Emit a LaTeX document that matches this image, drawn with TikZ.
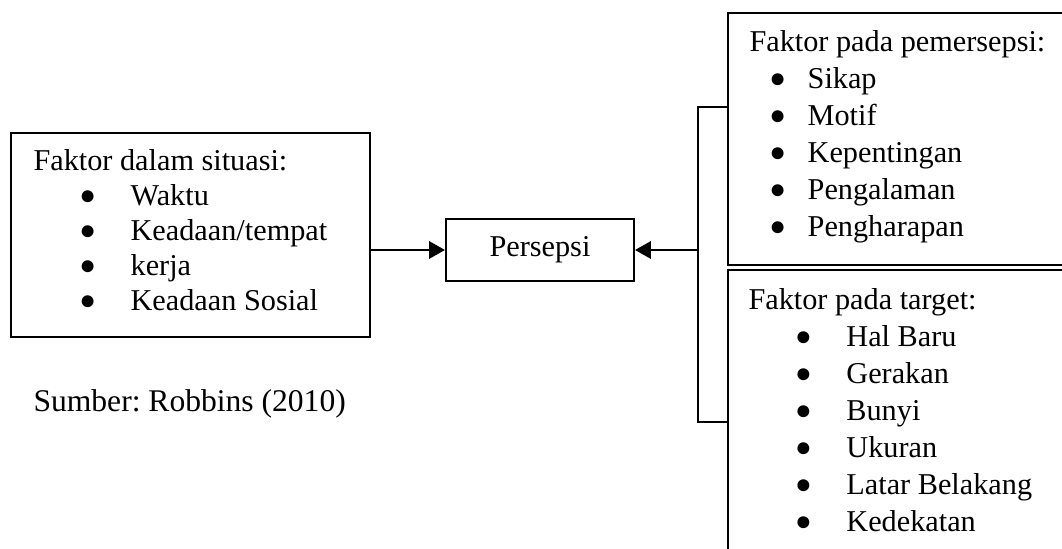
\documentclass[tikz,border=0pt]{standalone}
\usepackage{fontspec}
\setmainfont{Liberation Serif}
\usetikzlibrary{arrows.meta}
\frenchspacing
\newcommand{\titik}[3]{\hspace*{#1}\makebox[#2][l]{\raisebox{0.5pt}{\fontsize{10.5}{10.5}\selectfont ●}}#3}

\begin{document}
\begin{tikzpicture}[x=0.38pt,y=-0.38pt,
    kotak/.style={draw,line width=0.8pt,inner sep=0pt},
    teks/.style={anchor=base west,inner sep=0pt,font=\fontsize{11.5}{13.3}\selectfont},
    panah/.style={line width=0.9pt,-{Triangle[length=6pt,width=6.5pt]}}]

            \clip (0,0) rectangle (1062,549);

            \node[kotak,minimum width=136.4pt,minimum height=77.5pt] (situasi) at (190.5,235){};
            \node[teks] (situasiisi) at (33,171){\begin{tabular}[t]{@{}l@{}}
                Faktor dalam situasi:\\
                \titik{17.4pt}{19.5pt}{Waktu}\\
                \titik{17.4pt}{19.5pt}{Keadaan/tempat}\\
                \titik{17.4pt}{19.5pt}{kerja}\\
                \titik{17.4pt}{19.5pt}{Keadaan Sosial}
            \end{tabular}};

            \node[kotak,teks,anchor=center,minimum width=71.4pt,minimum height=23.6pt] (persepsi) at (540,250){Persepsi};

            \node[kotak,minimum width=141.4pt,minimum height=95.8pt] (pemersepsi) at (914,139){};
            \node[teks,font=\fontsize{11.5}{14.06}\selectfont] (pemersepsiisi) at (749,52){\begin{tabular}[t]{@{}l@{}}
                Faktor pada pemersepsi:\\
                \titik{7.5pt}{14.6pt}{Sikap}\\
                \titik{7.5pt}{14.6pt}{Motif}\\
                \titik{7.5pt}{14.6pt}{Kepentingan}\\
                \titik{7.5pt}{14.6pt}{Pengalaman}\\
                \titik{7.5pt}{14.6pt}{Pengharapan}
            \end{tabular}};

            \node[kotak,minimum width=141.4pt,minimum height=125.4pt] (target) at (914,435){};
            \node[teks,font=\fontsize{11.5}{14.06}\selectfont] (targetisi) at (748,310){\begin{tabular}[t]{@{}l@{}}
                Faktor pada target:\\
                \titik{17.7pt}{19.5pt}{Hal Baru}\\
                \titik{17.7pt}{19.5pt}{Gerakan}\\
                \titik{17.7pt}{19.5pt}{Bunyi}\\
                \titik{17.7pt}{19.5pt}{Ukuran}\\
                \titik{17.7pt}{19.5pt}{Latar Belakang}\\
                \titik{17.7pt}{19.5pt}{Kedekatan}
            \end{tabular}};

            \node[teks,font=\fontsize{12}{14}\selectfont] (sumber) at (33,412){Sumber: Robbins (2010)};

            \coordinate (cabang) at (698,250);
            \coordinate (kaitatas) at (0,107);
            \coordinate (kaitbawah) at (0,422);

            \draw[panah] (situasi.east |- persepsi) -- (persepsi);
            \draw[panah] (cabang) -- (persepsi);
            \draw[line width=0.9pt] (pemersepsi.west |- kaitatas) -| (cabang) |- (target.west |- kaitbawah);
\end{tikzpicture}
\end{document}
